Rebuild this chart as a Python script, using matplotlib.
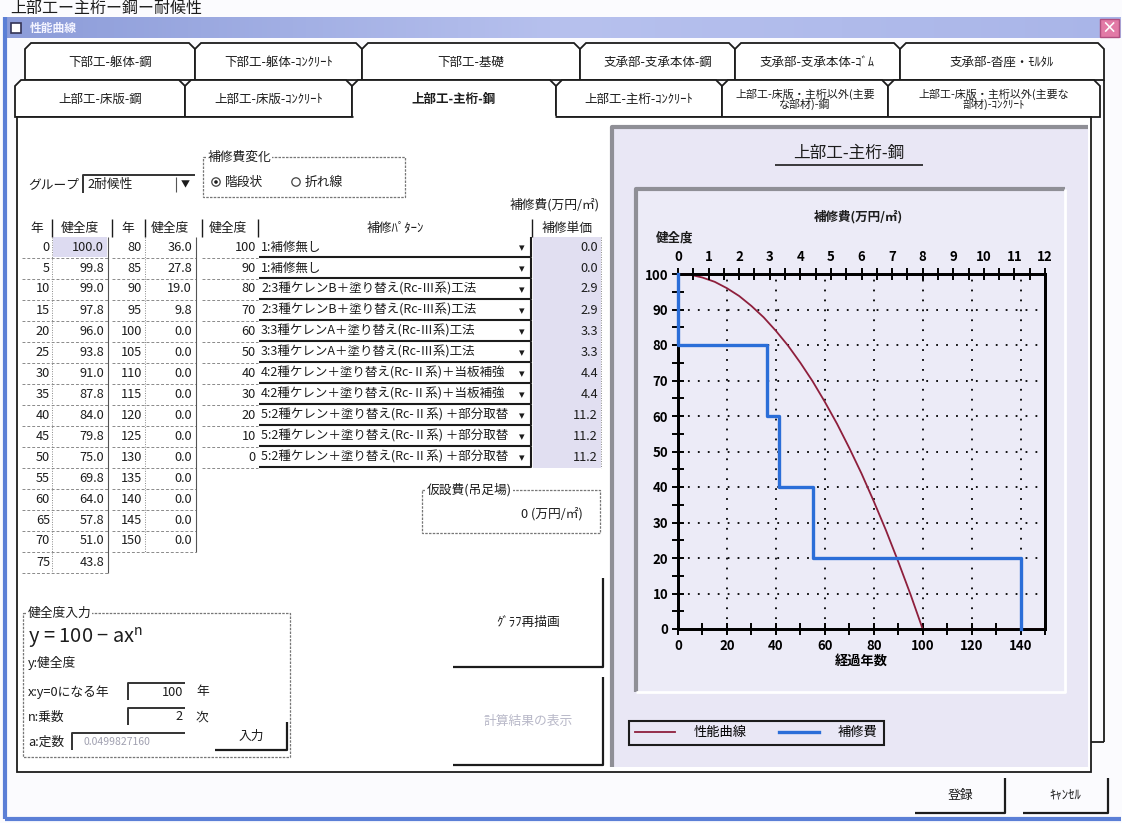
import numpy as np
import matplotlib.pyplot as plt
from matplotlib.patches import Rectangle, Polygon, Circle
from matplotlib.colors import LinearSegmentedColormap
from matplotlib.ticker import MultipleLocator

plt.rcParams['font.family'] = ['Noto Sans CJK JP', 'DejaVu Sans']

# 性能曲線テーブル (年, 健全度)
years_a = [0, 5, 10, 15, 20, 25, 30, 35, 40, 45, 50, 55, 60, 65, 70, 75]
health_a = [100.0, 99.8, 99.0, 97.8, 96.0, 93.8, 91.0, 87.8, 84.0, 79.8, 75.0, 69.8, 64.0, 57.8, 51.0, 43.8]
years_b = [80, 85, 90, 95, 100, 105, 110, 115, 120, 125, 130, 135, 140, 145, 150]
health_b = [36.0, 27.8, 19.0, 9.8, 0.0, 0.0, 0.0, 0.0, 0.0, 0.0, 0.0, 0.0, 0.0, 0.0, 0.0]

# 補修パターン (健全度ごと)
grades = [100, 90, 80, 70, 60, 50, 40, 30, 20, 10, 0]
patterns = [
    "1:補修無し",
    "1:補修無し",
    "2:3種ケレンB＋塗り替え(Rc-Ⅲ系)工法",
    "2:3種ケレンB＋塗り替え(Rc-Ⅲ系)工法",
    "3:3種ケレンA＋塗り替え(Rc-Ⅲ系)工法",
    "3:3種ケレンA＋塗り替え(Rc-Ⅲ系)工法",
    "4:2種ケレン＋塗り替え(Rc-Ⅱ系)＋当板補強",
    "4:2種ケレン＋塗り替え(Rc-Ⅱ系)＋当板補強",
    "5:2種ケレン＋塗り替え(Rc-Ⅱ系) ＋部分取替",
    "5:2種ケレン＋塗り替え(Rc-Ⅱ系) ＋部分取替",
    "5:2種ケレン＋塗り替え(Rc-Ⅱ系) ＋部分取替",
]
unit_cost = [0.0, 0.0, 2.9, 2.9, 3.3, 3.3, 4.4, 4.4, 11.2, 11.2, 11.2]

tabs_back = ["下部工-躯体-鋼", "下部工-躯体-ｺﾝｸﾘｰﾄ", "下部工-基礎",
             "支承部-支承本体-鋼", "支承部-支承本体-ｺﾞﾑ", "支承部-沓座・ﾓﾙﾀﾙ"]
tabs_front = ["上部工-床版-鋼", "上部工-床版-ｺﾝｸﾘｰﾄ", "上部工-主桁-鋼",
              "上部工-主桁-ｺﾝｸﾘｰﾄ", "上部工-床版・主桁以外(主要\nな部材)-鋼",
              "上部工-床版・主桁以外(主要な\n部材)-ｺﾝｸﾘｰﾄ"]
tabs_back_x = [25, 195, 362, 580, 735, 900, 1104]
tabs_front_x = [15, 185, 352, 556, 722, 888, 1100]

W, H = 1122, 823
INK = '#1c1c1c'
LAV = '#e9e7f5'
RED = '#8e1f3c'
BLUE = '#2b6ed8'

fig = plt.figure(figsize=(W / 100, H / 100), dpi=100, facecolor='#fbfbfe')
ui = fig.add_axes([0, 0, 1, 1], zorder=0)


def t(x, y, s, size=9.2, ha='left', va='center', color=INK, **kw):
    return ui.text(x, y, s, fontsize=size, ha=ha, va=va, color=color, **kw)


def rect(x0, y0, x1, y1, fc='none', ec=INK, lw=1.0, **kw):
    ui.add_patch(Rectangle((x0, y0), x1 - x0, y1 - y0, fc=fc, ec=ec, lw=lw, **kw))


def line(xs, ys, c=INK, lw=1.0, **kw):
    ui.plot(xs, ys, color=c, lw=lw, solid_capstyle='butt', **kw)


def button(x0, y0, x1, y1, label, color=INK):
    line([x0, x1, x1], [y1, y1, y0], lw=1.6)
    t((x0 + x1) / 2, (y0 + y1) / 2, label, ha='center', color=color)


def group(x0, y0, x1, y1, title):
    rect(x0, y0, x1, y1, ec='#777777', lw=0.9, ls=(0, (2, 1)))
    t(x0 + 5, y0, title, bbox=dict(fc='white', ec='none', pad=0.5))


def edit(x0, y0, x1, y1):
    line([x0, x0, x1], [y1, y0, y0], c='#333333', lw=1.4)


# window frame and title bar
grad = np.linspace(0, 1, 256)[None, :]
ui.imshow(grad, extent=(5, 1121, 38, 17), aspect='auto', zorder=1,
          cmap=LinearSegmentedColormap.from_list('tb', ['#8c9cd9', '#b7c1ee', '#a9b5e8']))
rect(1100, 19, 1119, 37, fc='#e27aa6', ec='#b04f80', lw=1, zorder=2)
t(1109.5, 28, '×', size=11, ha='center', color='white', weight='bold', zorder=3)
rect(11, 23, 21, 33, fc='white', ec='#333355', lw=1.2, zorder=2)
t(30, 28, '性能曲線', size=8.5, color='#f4f4ff', weight='bold', zorder=3)
line([5, 5], [17, 819], c='#5b7fd6', lw=3)
line([5, 1121], [819, 819], c='#5b7fd6', lw=3)
t(10, 8.5, '上部工ー主桁ー鋼ー耐候性', size=11.5, va='center')

# tabs
def tab(x0, x1, y0, y1, label, bold=False):
    c = 6
    pts = [(x0, y1), (x0, y0 + c), (x0 + c, y0), (x1 - c, y0), (x1, y0 + c), (x1, y1)]
    ui.add_patch(Polygon(pts, closed=True, fc='white', ec=INK, lw=1.3))
    size = 9.0 if '\n' not in label else 7.9
    t((x0 + x1) / 2, (y0 + y1) / 2 + 1, label, size=size, ha='center',
      weight='bold' if bold else 'normal', linespacing=0.95)


for i, lab in enumerate(tabs_back):
    tab(tabs_back_x[i], tabs_back_x[i + 1], 43, 80, lab)
for i, lab in enumerate(tabs_front):
    tab(tabs_front_x[i], tabs_front_x[i + 1], 80, 117, lab, bold=(i == 2))

# stacked pages behind
line([1104, 1104], [80, 742], lw=1.3)
line([1091, 1104], [742, 742], lw=1.3)
rect(17, 117, 1091, 772, fc='white', ec=INK, lw=1.3)
line([tabs_front_x[2] + 1, tabs_front_x[3] - 1], [117, 117], c='white', lw=2.5)

# group combo
t(28, 185, 'グループ')
rect(83, 175, 195, 193, fc='white', ec='none')
edit(83, 175, 195, 193)
t(87, 184, '2耐候性')
line([176, 176], [177, 192], c='#555555', lw=0.8)
t(185.5, 185, '▼', size=6.5, ha='center')

group(203, 157, 405, 197, '補修費変化')
ui.add_patch(Circle((216, 182), 4.2, fc='white', ec='#444444', lw=0.9))
ui.add_patch(Circle((216, 182), 1.8, fc=INK, ec='none'))
t(225, 182, '階段状')
ui.add_patch(Circle((296, 182), 4.2, fc='white', ec='#444444', lw=0.9))
t(305, 182, '折れ線')

t(600, 205, '補修費(万円/㎡)', ha='right')

ROW0, DY, HY = 247, 21, 228


def grid_rows(x0, x1, n):
    for i in range(n):
        yb = ROW0 + i * DY + DY / 2
        line([x0, x1], [yb, yb], c='#8a8a8a', lw=0.7, ls=(0, (3, 2)))


# table 1
rect(53, ROW0 - 10, 107, ROW0 + 10, fc='#dddbf1', ec='none')
t(37, HY, '年', ha='center')
t(80, HY, '健全度', ha='center')
line([52, 52], [HY - 9, HY + 9], lw=1.0)
for i, (yr, h) in enumerate(zip(years_a, health_a)):
    y = ROW0 + i * DY
    t(50, y, str(yr), ha='right')
    t(104, y, f'{h:.1f}', ha='right')
grid_rows(22, 108, len(years_a))
line([52, 52], [ROW0 - 10, ROW0 + (len(years_a) - 0.5) * DY], c='#888888', lw=0.7, ls=(0, (1, 1.5)))
line([108, 108], [ROW0 - 10, ROW0 + (len(years_a) - 0.5) * DY], c='#555555', lw=0.8)

# table 2
t(128, HY, '年', ha='center')
t(170, HY, '健全度', ha='center')
line([112, 112], [HY - 9, HY + 9], lw=1.0)
line([145, 145], [HY - 9, HY + 9], lw=1.0)
for i, (yr, h) in enumerate(zip(years_b, health_b)):
    y = ROW0 + i * DY
    t(142, y, str(yr), ha='right')
    t(192, y, f'{h:.1f}', ha='right')
grid_rows(112, 196, len(years_b))
line([145, 145], [ROW0 - 10, ROW0 + (len(years_b) - 0.5) * DY], c='#888888', lw=0.7, ls=(0, (1, 1.5)))
line([196, 196], [ROW0 - 10, ROW0 + (len(years_b) - 0.5) * DY], c='#555555', lw=0.8)

# table 3
t(228, HY, '健全度', ha='center')
t(395, HY, '補修ﾊﾟﾀｰﾝ', ha='center')
t(567, HY, '補修単価', ha='center')
line([202, 202], [HY - 9, HY + 9], lw=1.0)
line([258, 258], [HY - 9, HY + 9], lw=1.0)
line([532, 532], [HY - 9, HY + 9], lw=1.0)
rect(533, ROW0 - 10, 601, ROW0 + (len(grades) - 0.5) * DY, fc='#e1dff1', ec='none')
for i, (g, p, c) in enumerate(zip(grades, patterns, unit_cost)):
    y = ROW0 + i * DY
    t(256, y, str(g), ha='right')
    rect(259, y - 10, 531, y + 10, fc='white', ec='none')
    line([259, 531, 531], [y + 9.5, y + 9.5, y - 10], lw=1.5)
    t(261, y, p, size=9.0)
    t(522, y + 1, '▾', size=8, ha='center')
    t(598, y, f'{c:.1f}', ha='right')
grid_rows(202, 258, len(grades))
line([601, 601], [ROW0 - 10, ROW0 + (len(grades) - 0.5) * DY], c='#888888', lw=0.7, ls=(0, (1, 1.5)))

# 仮設費
group(422, 490, 600, 533, '仮設費(吊足場)')
t(583, 514, '0 (万円/㎡)', ha='right')

# 健全度入力
group(23, 613, 290, 757, '健全度入力')
t(28, 637, 'y = 100 − ax$^{\\mathregular{n}}$', size=14.5)
t(28, 663, 'y:健全度')
t(28, 692, 'x:y=0になる年')
edit(128, 683, 185, 700)
t(183, 692, '100', ha='right')
t(196, 692, '年')
t(28, 717, 'n:乗数')
edit(128, 708, 185, 725)
t(183, 717, '2', ha='right')
t(196, 717, '次')
t(28, 742, 'a:定数')
edit(72, 733, 185, 750)
t(84, 742, '0.0499827160', size=7.5, color='#a0a0b0')
button(215, 722, 287, 750, '入力')

button(453, 578, 603, 667, 'ｸﾞﾗﾌ再描画')
button(453, 677, 603, 765, '計算結果の表示', color='#b8b8c8')

button(915, 778, 1005, 813, '登録')
button(1023, 778, 1108, 813, 'ｷｬﾝｾﾙ')

# chart panels
rect(612, 127, 1088, 767, fc=LAV, ec='none')
line([612, 612, 1088], [767, 127, 127], c='#8f8f96', lw=3)
rect(636, 189, 1065, 692, fc='#ecebf7', ec='none')
line([636, 636, 1065], [692, 189, 189], c='#8f8f96', lw=3)
line([636, 1065, 1065], [692, 692, 189], c='white', lw=2)
t(849, 153, '上部工-主桁-鋼', size=12, ha='center')
line([775, 923], [165, 165], lw=1.2)
t(858, 217, '補修費(万円/㎡)', size=9, ha='center', weight='bold')
t(656, 238, '健全度', size=9, weight='bold')

ui.set_xlim(0, W)
ui.set_ylim(H, 0)
ui.axis('off')

# chart
ax = fig.add_axes([678 / W, 1 - 629 / H, 367 / W, 355 / H], zorder=2)
ax.patch.set_alpha(0)
ax.set_xlim(0, 150)
ax.set_ylim(0, 100)
l1, = ax.plot(years_a + years_b, health_a + health_b, color=RED, lw=1.3, clip_on=False, zorder=4)
ax.xaxis.set_major_locator(MultipleLocator(20))
ax.xaxis.set_minor_locator(MultipleLocator(10))
ax.yaxis.set_major_locator(MultipleLocator(10))
ax.yaxis.set_minor_locator(MultipleLocator(5))
ax.grid(which='major', color='k', ls=(0, (1, 4.5)), lw=1.3)
ax.tick_params(which='both', direction='inout', length=8, width=1.4, labelsize=9.5, pad=3)
ax.set_xlabel('経過年数', fontsize=9.5, weight='bold', labelpad=1)
for s in ax.spines.values():
    s.set_linewidth(2)

ax2 = ax.twiny()
ax2.set_xlim(0, 12)
ax2.xaxis.set_major_locator(MultipleLocator(1))
ax2.xaxis.set_minor_locator(MultipleLocator(0.5))
ax2.tick_params(which='both', direction='inout', length=8, width=1.4, labelsize=9.5, pad=3)
for s in ax2.spines.values():
    s.set_linewidth(2)
for lab in ax.get_xticklabels() + ax.get_yticklabels() + ax2.get_xticklabels():
    lab.set_fontweight('bold')

# step line of repair cost vs health grade
sx, sy = [], []
for i in range(len(grades)):
    nxt = grades[i + 1] if i + 1 < len(grades) else grades[i]
    sx += [unit_cost[i], unit_cost[i]]
    sy += [grades[i], nxt]
l2, = ax2.plot(sx, sy, color=BLUE, lw=2.4, clip_on=False, zorder=5)

leg = fig.legend([l1, l2], ['性能曲線', '補修費'], loc='lower left',
                 bbox_to_anchor=(622 / W, 1 - 752 / H), ncol=2, fancybox=False,
                 edgecolor=INK, facecolor=LAV, framealpha=1, handlelength=3.1,
                 columnspacing=2.4, fontsize=9.5, borderpad=0.45, handletextpad=1.4)
leg.get_frame().set_linewidth(1.5)

fig.savefig('out.png', dpi=100, facecolor=fig.get_facecolor())
